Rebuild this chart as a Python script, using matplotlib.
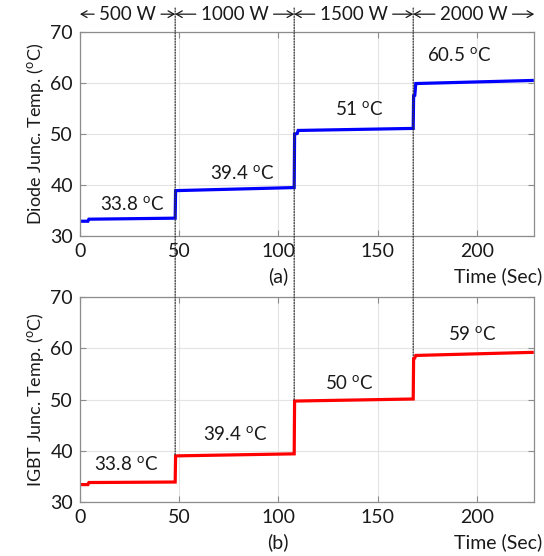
import matplotlib
matplotlib.use("Agg")
import matplotlib.pyplot as plt
from matplotlib.patches import ConnectionPatch


plt.rcParams["font.family"] = ["Lato", "DejaVu Sans"]
plt.rcParams["mathtext.fontset"] = "custom"
plt.rcParams["mathtext.rm"] = "Lato"
plt.rcParams["font.size"] = 12

# step change instants (s) and the load of each interval
STEP_TIMES = [48, 108, 168]
LOAD_LABELS = ["500 W", "1000 W", "1500 W", "2000 W"]
X_END = 229

# diode junction temperature, breakpoints of the recorded trace
diode_t = [0, 4, 4.5, 48, 48.2, 108, 108.2, 109.5, 110, 168, 168.2, 168.8, 169.3, 228]
diode_y = [32.9, 32.9, 33.3, 33.5, 38.9, 39.5, 50.0, 50.1, 50.7, 51.1, 57.5, 57.6, 59.9, 60.5]

# IGBT junction temperature
igbt_t = [0, 4, 4.5, 48, 48.2, 108, 108.2, 168, 168.2, 168.8, 169.3, 228]
igbt_y = [33.4, 33.4, 33.8, 33.9, 39.0, 39.4, 49.7, 50.1, 58.0, 58.1, 58.6, 59.2]

# steady-state annotations: (x, y, text)
diode_notes = [(26.5, 36.1, "33.8"), (81.5, 42.3, "39.4"), (141, 54.7, "51"), (191, 65.3, "60.5")]
igbt_notes = [(23.3, 37.2, "33.8"), (78, 43.1, "39.4"), (136, 53.0, "50"), (198, 62.6, "59")]

# tops of the IGBT steps, where the divider lines end
igbt_step_tops = [39.0, 49.7, 58.5]

GRID = "#e3e3e3"
SPINE = "#8c8c8c"
TEXT = "#1a1a1a"

fig = plt.figure(figsize=(5.44, 5.56), dpi=100)
ax1 = fig.add_axes([0.147, 0.5755, 0.835, 0.3669])
ax2 = fig.add_axes([0.147, 0.0971, 0.835, 0.3687])


def style_axes(ax, ylabel, tag):
	ax.set_xlim(0, X_END)
	ax.set_ylim(30, 70)
	ax.set_xticks(range(0, 201, 50))
	ax.set_yticks(range(30, 71, 10))
	ax.grid(True, color=GRID, linewidth=0.8)
	ax.set_axisbelow(True)
	for sp in ax.spines.values():
		sp.set_color(SPINE)
		sp.set_linewidth(0.9)
	ax.tick_params(direction="in", top=True, right=True, length=4,
		color=SPINE, labelcolor=TEXT, labelsize=14, pad=5)
	ax.set_ylabel(ylabel, color=TEXT, fontsize=13, labelpad=3)
	ax.text(1.018, -0.195, "Time (Sec)", transform=ax.transAxes,
		ha="right", va="center", color=TEXT, fontsize=14)
	ax.text(100, -0.195, tag, transform=ax.get_xaxis_transform(),
		ha="center", va="center", color=TEXT, fontsize=14)


ax1.plot(diode_t, diode_y, color="#0000ff", linewidth=2.3, solid_joinstyle="miter")
ax2.plot(igbt_t, igbt_y, color="#ff0000", linewidth=2.3, solid_joinstyle="miter")

style_axes(ax1, "Diode Junc. Temp. ($^\\mathrm{o}$C)", "(a)")
style_axes(ax2, "IGBT Junc. Temp. ($^\\mathrm{o}$C)", "(b)")

for ax, notes in ((ax1, diode_notes), (ax2, igbt_notes)):
	for x, y, val in notes:
		ax.text(x, y, val + " $^\\mathrm{o}$C", ha="center", va="center",
			color=TEXT, fontsize=13.5)

# dotted dividers from above the top panel down to the IGBT steps
for t, top in zip(STEP_TIMES, igbt_step_tops):
	con = ConnectionPatch(xyA=(t, 74.7), coordsA=ax1.transData,
		xyB=(t, top), coordsB=ax2.transData,
		linestyle=(0, (1, 1.2)), color="#333333", linewidth=0.9)
	fig.add_artist(con)

# load labels with arrows to the interval limits
bounds = [0] + STEP_TIMES + [X_END]
label_y = 73.5
labels = []
for i, name in enumerate(LOAD_LABELS):
	mid = (bounds[i] + bounds[i + 1]) / 2
	labels.append(ax1.text(mid, label_y, name, ha="center", va="center",
		color=TEXT, fontsize=13.5, clip_on=False))

fig.canvas.draw()
renderer = fig.canvas.get_renderer()
inv = ax1.transData.inverted()
for i, txt in enumerate(labels):
	bb = txt.get_window_extent(renderer)
	left = inv.transform((bb.x0 - 5, 0))[0]
	right = inv.transform((bb.x1 + 5, 0))[0]
	arrow = dict(arrowstyle="->,head_length=0.35,head_width=0.2",
		color=TEXT, linewidth=0.9, shrinkA=0, shrinkB=0)
	ax1.annotate("", xy=(bounds[i], label_y), xytext=(left, label_y),
		arrowprops=arrow, annotation_clip=False)
	ax1.annotate("", xy=(bounds[i + 1], label_y), xytext=(right, label_y),
		arrowprops=arrow, annotation_clip=False)

fig.savefig("out.png", dpi=100)
